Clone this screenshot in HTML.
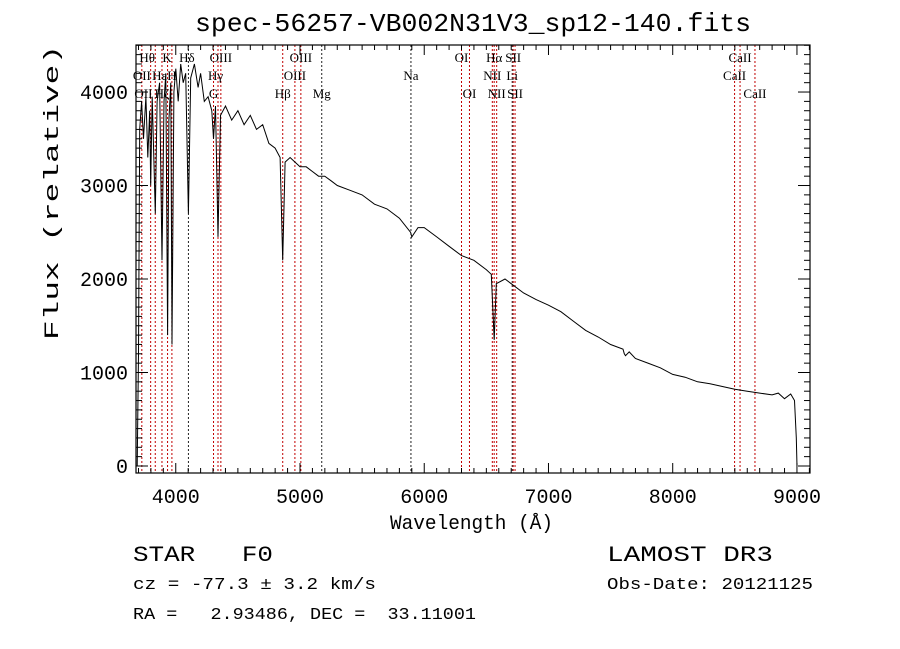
<!DOCTYPE html>
<html><head><meta charset="utf-8"><style>
html,body{margin:0;padding:0;background:#fff;}
svg{display:block;}
text{font-family:"Liberation Mono",monospace;fill:#000;white-space:pre;}
.ll{font-family:"Liberation Serif",serif;font-size:13px;}
</style></head><body>
<svg id="chart" width="900" height="649" viewBox="0 0 900 649" xml:space="preserve">
<rect width="900" height="649" fill="#fff"/>
<text x="195" y="31" font-size="26" textLength="556" lengthAdjust="spacingAndGlyphs">spec-56257-VB002N31V3_sp12-140.fits</text>
<g id="lines"></g>
<path id="spec" fill="none" stroke="#000" stroke-width="1"/>
<rect x="136" y="45" width="674" height="428" fill="none" stroke="#000" stroke-width="1.2"/>
<g id="axes"></g>
<g id="labels"></g>
<text transform="translate(58,340) rotate(-90)" font-size="20" textLength="295" lengthAdjust="spacingAndGlyphs">Flux (relative)</text>
<text x="390" y="529" font-size="20" textLength="163" lengthAdjust="spacingAndGlyphs">Wavelength (Å)</text>
<text x="133" y="561" font-size="22" textLength="140" lengthAdjust="spacingAndGlyphs">STAR   F0</text>
<text x="607" y="561" font-size="22" textLength="166" lengthAdjust="spacingAndGlyphs">LAMOST DR3</text>
<text x="133" y="589" font-size="17" textLength="243" lengthAdjust="spacingAndGlyphs">cz = -77.3 ± 3.2 km/s</text>
<text x="607" y="589" font-size="17" textLength="206" lengthAdjust="spacingAndGlyphs">Obs-Date: 20121125</text>
<text x="133" y="619" font-size="17" textLength="343" lengthAdjust="spacingAndGlyphs">RA =   2.93486, DEC =  33.11001</text>
</svg>
<script>
const wavelengths=[3690,3700,3710,3725,3740,3760,3775,3790,3798,3810,3835,3850,3870,3889,3905,3920,3934,3945,3960,3970,3985,4000,4020,4040,4060,4080,4102,4120,4150,4180,4200,4230,4260,4290,4304,4320,4340,4360,4400,4450,4500,4550,4600,4650,4700,4750,4800,4840,4861,4880,4920,4960,5000,5050,5100,5150,5200,5250,5300,5400,5500,5600,5700,5800,5890,5900,5950,6000,6100,6200,6300,6400,6500,6540,6563,6580,6650,6700,6800,6900,7000,7100,7200,7300,7400,7500,7600,7610,7620,7650,7700,7800,7900,8000,8100,8200,8300,8400,8500,8600,8700,8800,8850,8900,8950,8980,8995,9000];
const flux=[0,1200,3600,3900,3500,3950,3300,3800,3000,3950,2700,3900,4100,2200,3900,4200,1400,3700,4100,1300,4000,4250,3900,4300,4100,4200,2700,4150,4300,4050,4200,3900,3950,3800,3500,3850,2450,3750,3850,3700,3800,3650,3750,3600,3650,3450,3400,3300,2200,3250,3300,3250,3200,3200,3150,3100,3100,3050,3000,2950,2900,2800,2750,2650,2500,2450,2550,2550,2450,2350,2250,2200,2100,2050,1350,1950,2000,1950,1850,1780,1720,1650,1550,1450,1380,1300,1250,1200,1180,1220,1150,1100,1050,980,950,900,880,850,820,800,780,760,780,720,770,700,300,0];
const lineWl=[3727,3798,3835,3889,3934,3969,4102,4304,4340,4363,4861,4959,5007,5175,5893,6300,6364,6548,6563,6583,6708,6716,6731,8498,8542,8662];
const lineColor=["r","r","r","r","r","r","k","r","r","r","r","r","r","k","k","r","r","r","r","r","k","r","r","r","r","r"];
const xTicks=[4000,5000,6000,7000,8000,9000];
const yTicks=[0,1000,2000,3000,4000];
const lineLabels=["Hθ","K","Hδ","OIII","OIII","OI","Hα","SII","CaII","OII","Hε","H","Hγ","OIII","Na","NII","Li","CaII","OII","Hζ","G","Hβ","Mg","OI","NII","SII","CaII"];
const labelWl=[3770,3930,4090,4363,5007,6300,6563,6716,8542,3727,3870,3969,4320,4959,5893,6548,6708,8498,3740,3889,4304,4861,5175,6364,6583,6731,8662];
const labelRow=[0,0,0,0,0,0,0,0,0,1,1,1,1,1,1,1,1,1,2,2,2,2,2,2,2,2,2];
const NS='http://www.w3.org/2000/svg';
const X0=3680,X1=9105,Y0=-75,Y1=4503,PL=136,PR=810,PT=45,PB=473;
function xs(w){return PL+(w-X0)/(X1-X0)*(PR-PL);}
function ys(f){return PB-(f-Y0)/(Y1-Y0)*(PB-PT);}
let d='';
for(let i=0;i<wavelengths.length;i++){d+=(i?'L':'M')+xs(wavelengths[i]).toFixed(1)+' '+ys(flux[i]).toFixed(1);}
document.getElementById('spec').setAttribute('d',d);
const lg=document.getElementById('lines');
for(let i=0;i<lineWl.length;i++){
 const l=document.createElementNS(NS,'line');
 
 
 const x=xs(lineWl[i]);
 l.setAttribute('x1',x);l.setAttribute('x2',x);l.setAttribute('y1',PT);l.setAttribute('y2',PB);
 l.setAttribute('stroke',lineColor[i]==='r'?'#c00000':'#222');l.setAttribute('stroke-width','1');l.setAttribute('stroke-dasharray','2,2');
 lg.appendChild(l);
}
const ax=document.getElementById('axes');
function ln(x1,y1,x2,y2){const l=document.createElementNS(NS,'line');l.setAttribute('x1',x1);l.setAttribute('y1',y1);l.setAttribute('x2',x2);l.setAttribute('y2',y2);l.setAttribute('stroke','#000');l.setAttribute('stroke-width','1');ax.appendChild(l);}
for(let w=3700;w<=9100;w+=100){const x=xs(w);const L=(w%1000===0)?10:5;ln(x,PB,x,PB-L);ln(x,PT,x,PT+L);}
for(let f=0;f<=4500;f+=100){const y=ys(f);const L=(f%1000===0)?12:6;ln(PL,y,PL+L,y);ln(PR,y,PR-L,y);}
for(const t of xTicks){
 const tx=document.createElementNS(NS,'text');
 
 
 tx.setAttribute('x',xs(t));tx.setAttribute('y',503);tx.setAttribute('font-size','20');tx.setAttribute('text-anchor','middle');tx.textContent=t;ax.appendChild(tx);
}
for(const t of yTicks){
 const tx=document.createElementNS(NS,'text');
 
 
 tx.setAttribute('x',128);tx.setAttribute('y',ys(t)+7);tx.setAttribute('font-size','20');tx.setAttribute('text-anchor','end');tx.textContent=t;ax.appendChild(tx);
}
const lb=document.getElementById('labels');
for(let i=0;i<lineLabels.length;i++){
 const tx=document.createElementNS(NS,'text');
 
 
 tx.setAttribute('class','ll');tx.setAttribute('x',xs(labelWl[i]));tx.setAttribute('y',62+labelRow[i]*18);tx.setAttribute('text-anchor','middle');tx.textContent=lineLabels[i];lb.appendChild(tx);
}
</script>
</body></html>
